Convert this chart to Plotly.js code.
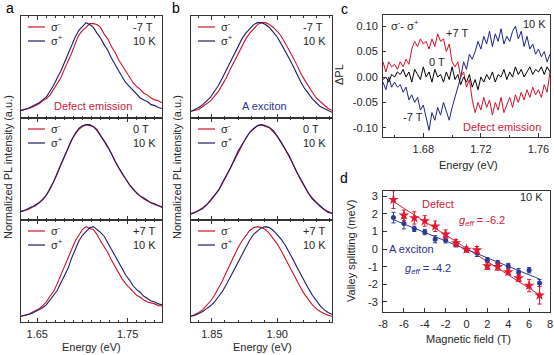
<!DOCTYPE html>
<html><head><meta charset="utf-8">
<script src="https://cdn.plot.ly/plotly-3.0.1.min.js"></script>
<style>html,body{margin:0;padding:0;background:#fff}#chart{width:554px;height:355px}</style>
</head><body><div id="chart"></div>
<script>
// ---------- Panel a : defect emission spectra ----------
const energyA = [1.632,1.636,1.640,1.644,1.648,1.652,1.656,1.660,1.664,1.668,1.672,1.676,1.680,1.684,1.688,1.692,1.696,1.700,1.704,1.708,1.712,1.716,1.720,1.724,1.728,1.732,1.736,1.740,1.744,1.748,1.752,1.756,1.760,1.764,1.768,1.772,1.776,1.780,1.784,1.788];
const defectMinus_m7T = [0.08,0.09,0.10,0.11,0.13,0.15,0.18,0.20,0.24,0.30,0.35,0.42,0.51,0.59,0.68,0.78,0.87,0.92,0.95,0.99,0.99,0.98,0.95,0.88,0.83,0.75,0.69,0.61,0.55,0.48,0.43,0.37,0.33,0.30,0.26,0.24,0.21,0.19,0.18,0.16];
const defectPlus_m7T  = [0.08,0.09,0.10,0.12,0.14,0.16,0.19,0.22,0.28,0.34,0.42,0.49,0.58,0.67,0.77,0.85,0.92,0.96,1.00,0.98,0.95,0.89,0.84,0.77,0.71,0.63,0.56,0.49,0.43,0.37,0.33,0.28,0.25,0.21,0.19,0.17,0.14,0.13,0.11,0.10];
const defectMinus_0T  = [0.09,0.10,0.11,0.13,0.16,0.18,0.22,0.26,0.32,0.40,0.48,0.58,0.67,0.76,0.84,0.90,0.95,0.98,1.00,0.99,0.98,0.95,0.89,0.82,0.76,0.70,0.62,0.55,0.48,0.43,0.37,0.33,0.28,0.25,0.22,0.20,0.18,0.16,0.15,0.14];
const defectPlus_0T   = [0.09,0.10,0.12,0.14,0.15,0.18,0.21,0.26,0.33,0.40,0.49,0.58,0.68,0.76,0.84,0.91,0.96,0.99,1.00,1.00,0.98,0.94,0.89,0.83,0.77,0.69,0.62,0.55,0.49,0.42,0.37,0.32,0.28,0.25,0.23,0.20,0.18,0.17,0.15,0.13];
const defectMinus_p7T = [0.06,0.07,0.08,0.10,0.12,0.14,0.17,0.21,0.27,0.32,0.40,0.49,0.57,0.66,0.77,0.85,0.91,0.97,1.00,0.98,0.97,0.92,0.85,0.79,0.73,0.65,0.58,0.52,0.45,0.40,0.36,0.31,0.28,0.26,0.23,0.21,0.20,0.19,0.17,0.17];
const defectPlus_p7T  = [0.06,0.07,0.08,0.09,0.11,0.13,0.15,0.18,0.23,0.27,0.33,0.41,0.48,0.56,0.67,0.76,0.85,0.91,0.95,0.99,1.00,0.97,0.94,0.90,0.83,0.77,0.69,0.62,0.56,0.49,0.44,0.38,0.34,0.31,0.27,0.24,0.22,0.21,0.19,0.18];

// ---------- Panel b : A exciton spectra ----------
const energyB = [1.834,1.837,1.840,1.843,1.846,1.849,1.852,1.855,1.858,1.861,1.864,1.867,1.870,1.873,1.876,1.879,1.882,1.885,1.888,1.891,1.894,1.897,1.900,1.903,1.906,1.909,1.912,1.915,1.918,1.921,1.924,1.927,1.930,1.933,1.936,1.939,1.942];
const excitonMinus_m7T = [0.07,0.08,0.09,0.12,0.15,0.18,0.23,0.28,0.35,0.42,0.51,0.59,0.67,0.75,0.83,0.89,0.94,0.98,1.00,1.00,0.98,0.95,0.91,0.86,0.79,0.72,0.64,0.56,0.47,0.40,0.33,0.27,0.21,0.17,0.13,0.10,0.08];
const excitonPlus_m7T  = [0.07,0.09,0.11,0.14,0.18,0.22,0.28,0.34,0.42,0.50,0.59,0.67,0.75,0.83,0.89,0.94,0.98,1.00,1.00,0.98,0.95,0.90,0.85,0.78,0.71,0.63,0.55,0.46,0.38,0.31,0.25,0.20,0.16,0.12,0.10,0.08,0.06];
const excitonMinus_0T  = [0.07,0.08,0.10,0.13,0.16,0.20,0.25,0.31,0.38,0.46,0.55,0.63,0.71,0.79,0.86,0.92,0.96,0.99,1.00,0.99,0.97,0.93,0.88,0.82,0.75,0.67,0.59,0.50,0.42,0.35,0.28,0.23,0.18,0.14,0.11,0.09,0.07];
const excitonPlus_0T   = [0.06,0.08,0.10,0.12,0.16,0.21,0.25,0.31,0.39,0.46,0.54,0.63,0.72,0.79,0.85,0.92,0.96,0.99,1.00,0.98,0.97,0.94,0.88,0.81,0.75,0.68,0.59,0.50,0.43,0.35,0.28,0.22,0.18,0.15,0.11,0.08,0.07];
const excitonMinus_p7T = [0.06,0.08,0.10,0.13,0.17,0.22,0.28,0.35,0.43,0.52,0.61,0.70,0.78,0.85,0.91,0.96,0.99,1.00,0.99,0.97,0.93,0.88,0.82,0.75,0.67,0.59,0.51,0.43,0.36,0.29,0.23,0.18,0.14,0.11,0.09,0.07,0.06];
const excitonPlus_p7T  = [0.06,0.07,0.09,0.11,0.14,0.17,0.21,0.26,0.32,0.39,0.47,0.55,0.63,0.71,0.79,0.86,0.92,0.96,0.99,1.00,0.99,0.96,0.92,0.87,0.81,0.74,0.66,0.58,0.50,0.42,0.35,0.28,0.22,0.17,0.13,0.10,0.08];

// ---------- Panel c : sigma- minus sigma+ ----------
const energyC = [1.652,1.654,1.656,1.658,1.660,1.662,1.664,1.666,1.668,1.670,1.672,1.674,1.676,1.678,1.680,1.682,1.684,1.686,1.688,1.690,1.692,1.694,1.696,1.698,1.700,1.702,1.704,1.706,1.708,1.710,1.712,1.714,1.716,1.718,1.720,1.722,1.724,1.726,1.728,1.730,1.732,1.734,1.736,1.738,1.740,1.742,1.744,1.746,1.748,1.750,1.752,1.754,1.756,1.758,1.760,1.762,1.764,1.766,1.768];
const dPL_p7T = [0.03,0.01,0.03,0.02,0.025,0.015,0.03,0.02,0.035,0.025,0.055,0.07,0.06,0.075,0.065,0.07,0.055,0.075,0.06,0.085,0.07,0.075,0.05,0.065,0.03,0.02,0.03,0.0,0.01,-0.02,-0.005,-0.045,-0.07,-0.05,-0.065,-0.04,-0.06,-0.045,-0.075,-0.05,-0.065,-0.04,-0.07,-0.055,-0.04,-0.06,-0.035,-0.05,-0.03,-0.045,-0.025,-0.04,-0.02,-0.035,-0.025,-0.04,-0.015,-0.03,0.01];
const dPL_0T  = [-0.005,0.0,-0.01,0.005,0.0,0.01,0.005,0.015,0.0,0.01,-0.01,0.015,0.005,-0.005,0.02,0.0,0.01,-0.01,0.015,0.0,0.005,-0.01,0.01,-0.005,0.02,-0.005,0.005,-0.015,0.0,-0.01,0.005,-0.02,-0.005,-0.025,0.0,-0.01,0.005,-0.005,0.01,-0.01,0.005,0.0,0.015,-0.005,0.01,0.0,0.02,0.005,0.015,0.0,0.01,0.02,0.005,0.015,0.01,0.02,0.005,0.02,0.01];
const dPL_m7T = [-0.01,-0.025,0.0,-0.02,-0.01,-0.02,-0.015,-0.03,-0.02,-0.045,-0.035,-0.05,-0.04,-0.065,-0.055,-0.08,-0.105,-0.07,-0.085,-0.06,-0.075,-0.05,-0.07,-0.085,-0.06,-0.04,-0.02,0.0,0.03,0.015,0.045,0.035,0.05,0.07,0.055,0.08,0.065,0.09,0.06,0.085,0.07,0.095,0.065,0.08,0.07,0.09,0.1,0.075,0.09,0.06,0.08,0.055,0.065,0.045,0.055,0.04,0.05,0.03,0.045];

// ---------- Panel d : valley splitting ----------
const fieldB = [-7,-6,-5,-4,-3,-2,-1,0,1,2,3,4,5,6,7];
const defectSplit = [2.81,1.92,1.77,1.60,1.30,0.84,0.35,-0.02,-0.05,-0.96,-1.00,-1.30,-1.64,-2.07,-2.62];
const defectErr   = [0.50,0.30,0.35,0.30,0.30,0.25,0.20,0.15,0.20,0.20,0.20,0.15,0.20,0.35,0.50];
const excitonSplit = [1.79,1.45,1.15,0.97,0.56,0.50,0.27,-0.05,-0.22,-0.63,-0.79,-0.96,-1.30,-1.20,-1.92];
const excitonErr   = [0.30,0.30,0.15,0.15,0.20,0.15,0.15,0.10,0.20,0.15,0.15,0.15,0.20,0.15,0.20];
const fitB = [-7,7];
const defectFit = [2.70,-2.60];
const excitonFit = [1.67,-1.70];

// tick labels
const tickA = [1.65,1.75], tickAText = ['1.65','1.75'];
const tickB = [1.85,1.90], tickBText = ['1.85','1.90'];
const tickCx = [1.68,1.72,1.76], tickCxText = ['1.68','1.72','1.76'];
const tickCy = [0.10,0.05,0,-0.05,-0.10], tickCyText = ['0.10','0.05','0.00','-0.05','-0.10'];
const tickDx = [-8,-6,-4,-2,0,2,4,6,8], tickDxText = ['-8','-6','-4','-2','0','2','4','6','8'];
const tickDy = [3,2,1,0,-1,-2,-3], tickDyText = ['3','2','1','0','-1','-2','-3'];

// ---------- styling ----------
const W = 554, H = 355;
const F = 'Liberation Sans, Arial, sans-serif';
const TXT = '#262626';
const RED = '#cf1229', NAVY = '#1b1e66';
const px = x => x / W, py = y => 1 - y / H;
const rows = [[16,118],[118,220],[220,322]];

const traces = [];
const layout = {
  width: W, height: H, margin: {l:0,r:0,t:0,b:0},
  paper_bgcolor: '#fff', plot_bgcolor: '#fff', showlegend: false,
  font: {family: F, size: 11, color: TXT},
  annotations: [], shapes: []
};

function xAxisAB(domain, range, tick0, minor, showLabels, tv, tt) {
  return {domain, range, showline:true, mirror:'ticks', linecolor:'#333', linewidth:1,
    ticks:'inside', ticklen:4, tickcolor:'#333', tickmode:'array', tickvals: tv, ticktext: tt,
    showticklabels: showLabels, tickfont:{family:F,size:11,color:TXT}, ticklabelstandoff: 2,
    minor:{ticks:'inside', ticklen:2, tick0: tick0, dtick: minor, tickcolor:'#333'},
    showgrid:false, zeroline:false, fixedrange:true};
}
function yAxisAB(domain, anchor) {
  return {domain, range:[0,1.07], anchor, showline:true, mirror:true, linecolor:'#333', linewidth:1,
    ticks:'', showticklabels:false, showgrid:false, zeroline:false, fixedrange:true};
}

const setsA = [[defectMinus_m7T, defectPlus_m7T],[defectMinus_0T, defectPlus_0T],[defectMinus_p7T, defectPlus_p7T]];
const setsB = [[excitonMinus_m7T, excitonPlus_m7T],[excitonMinus_0T, excitonPlus_0T],[excitonMinus_p7T, excitonPlus_p7T]];
const fields = ['-7 T','0 T','+7 T'];

function panel(colIdx, energy, sets, xdom, range, tick0, minor, tv, tt) {
  for (let r = 0; r < 3; r++) {
    const n = colIdx*3 + r + 1;
    const xa = 'x' + n, ya = 'y' + n;
    const ydom = [py(rows[r][1]), py(rows[r][0])];
    layout['xaxis' + n] = Object.assign(xAxisAB(xdom, range, tick0, minor, r === 2, tv, tt), {anchor: ya});
    layout['yaxis' + n] = yAxisAB(ydom, xa);
    traces.push({x: energy, y: sets[r][0], xaxis: xa, yaxis: ya, type:'scatter', mode:'lines', line:{color:RED, width:1.1}});
    traces.push({x: energy, y: sets[r][1], xaxis: xa, yaxis: ya, type:'scatter', mode:'lines', line:{color:NAVY, width:1.1}});
  }
}
panel(0, energyA, setsA, [px(21), px(162)], [1.632, 1.788], 1.65, 0.01, tickA, tickAText);
panel(1, energyB, setsB, [px(191), px(332)], [1.834, 1.942], 1.85, 0.01, tickB, tickBText);

// panel c
layout.xaxis7 = {domain:[px(383), px(550)], range:[1.652,1.768], anchor:'y7', showline:true, mirror:true,
  linecolor:'#333', linewidth:1, ticks:'inside', ticklen:4, tickcolor:'#333', tickmode:'array',
  tickvals: tickCx, ticktext: tickCxText, ticklabelstandoff: 2,
  minor:{ticks:'inside', ticklen:2, tick0:1.66, dtick:0.02, tickcolor:'#333'},
  showgrid:false, zeroline:false, tickfont:{family:F,size:11,color:TXT}, fixedrange:true};
layout.yaxis7 = {domain:[py(137), py(15)], range:[-0.118,0.122], anchor:'x7', showline:true, mirror:true,
  linecolor:'#333', linewidth:1, ticks:'inside', ticklen:3, tickcolor:'#333', tickmode:'array',
  tickvals: tickCy, ticktext: tickCyText, showgrid:false, zeroline:false, ticklabelstandoff: 2,
  tickfont:{family:F,size:11,color:TXT}, fixedrange:true};
traces.push({x: energyC, y: dPL_m7T, xaxis:'x7', yaxis:'y7', type:'scatter', mode:'lines', line:{color:'#1c2388', width:1}});
traces.push({x: energyC, y: dPL_p7T, xaxis:'x7', yaxis:'y7', type:'scatter', mode:'lines', line:{color:'#d8102a', width:1}});
traces.push({x: energyC, y: dPL_0T, xaxis:'x7', yaxis:'y7', type:'scatter', mode:'lines', line:{color:'#000', width:1}});

// panel d
layout.xaxis8 = {domain:[px(383), px(550)], range:[-8,8], anchor:'y8', showline:true, mirror:true,
  linecolor:'#333', linewidth:1, ticks:'inside', ticklen:4, tickcolor:'#333', tickmode:'array',
  tickvals: tickDx, ticktext: tickDxText, showgrid:false, zeroline:false, ticklabelstandoff: 2,
  tickfont:{family:F,size:11,color:TXT}, fixedrange:true};
layout.yaxis8 = {domain:[py(312), py(191)], range:[-3.57,3.3], anchor:'x8', showline:true, mirror:true,
  linecolor:'#333', linewidth:1, ticks:'inside', ticklen:4, tickcolor:'#333', tickmode:'array',
  tickvals: tickDy, ticktext: tickDyText, showgrid:false, zeroline:false, ticklabelstandoff: 2,
  tickfont:{family:F,size:11,color:TXT}, fixedrange:true};
traces.push({x: fitB, y: defectFit, xaxis:'x8', yaxis:'y8', type:'scatter', mode:'lines', line:{color:'#d8263a', width:1}});
traces.push({x: fitB, y: excitonFit, xaxis:'x8', yaxis:'y8', type:'scatter', mode:'lines', line:{color:'#2e3a95', width:1}});
traces.push({x: fieldB, y: excitonSplit, xaxis:'x8', yaxis:'y8', type:'scatter', mode:'markers',
  marker:{symbol:'circle', size:5, color:'#2b3896'},
  error_y:{type:'data', array: excitonErr, visible:true, color:'#2b3896', thickness:1, width:2}});
traces.push({x: fieldB, y: defectSplit, xaxis:'x8', yaxis:'y8', type:'scatter', mode:'markers',
  marker:{symbol:'star', size:8, color:'#e3172d'},
  error_y:{type:'data', array: defectErr, visible:true, color:'#e3172d', thickness:1, width:2}});

// ---------- annotations & legend samples ----------
function A(text, x, y, o) {
  return Object.assign({text, x: px(x), y: py(y), xref:'paper', yref:'paper', showarrow:false,
    xanchor:'left', yanchor:'middle', font:{family:F, size:11, color:TXT}}, o || {});
}
function L(x0, x1, y, color) {
  return {type:'line', xref:'paper', yref:'paper', x0:px(x0), x1:px(x1), y0:py(y), y1:py(y), line:{color, width:1.2}};
}
const ann = layout.annotations, shp = layout.shapes;
[21, 191].forEach(left => {
  rows.forEach((rw, r) => {
    const top = rw[0];
    shp.push(L(left+7, left+24, top+11, RED));
    shp.push(L(left+7, left+24, top+25, NAVY));
    ann.push(A('σ<sup>-</sup>', left+28, top+10));
    ann.push(A('σ<sup>+</sup>', left+28, top+24));
    ann.push(A(fields[r], left+110, top+11));
    ann.push(A('10 K', left+110, top+25));
  });
});
ann.push(A('Defect emission', 93, 106, {xanchor:'center', font:{family:F,size:11,color:'#d0203a'}}));
ann.push(A('A exciton', 264, 106, {xanchor:'center', font:{family:F,size:11,color:'#2c3190'}}));
ann.push(A('Energy (eV)', 91, 347, {xanchor:'center'}));
ann.push(A('Energy (eV)', 262, 347, {xanchor:'center'}));
ann.push(A('Normalized PL intensity (a.u.)', 8, 167, {xanchor:'center', textangle:-90}));
ann.push(A('Normalized PL intensity (a.u.)', 177, 167, {xanchor:'center', textangle:-90}));
// panel c
ann.push(A('σ<sup>-</sup>- σ<sup>+</sup>', 389, 25));
ann.push(A('+7 T', 444, 33));
ann.push(A('10 K', 521, 24));
ann.push(A('0 T', 427, 62));
ann.push(A('-7 T', 401, 117));
ann.push(A('Defect emission', 461, 127, {font:{family:F,size:11,color:'#d0203a'}}));
ann.push(A('Energy (eV)', 468, 165, {xanchor:'center'}));
ann.push(A('ΔPL', 339, 75, {xanchor:'center', textangle:-90}));
// panel d
ann.push(A('10 K', 518, 197));
ann.push(A('Defect', 420, 204, {font:{family:F,size:11,color:'#d0203a'}}));
ann.push(A('<i>g</i><sub><i>eff</i></sub> = -6.2', 457, 221, {font:{family:F,size:11,color:'#d0203a'}}));
ann.push(A('A exciton', 387, 249, {font:{family:F,size:11,color:'#2c3190'}}));
ann.push(A('<i>g</i><sub><i>eff</i></sub> = -4.2', 403, 269, {font:{family:F,size:11,color:'#2c3190'}}));
ann.push(A('Magnetic field (T)', 468, 339, {xanchor:'center'}));
ann.push(A('Valley splitting (meV)', 351, 251, {xanchor:'center', textangle:-90}));
// panel letters
ann.push(A('a', 4, 8, {font:{family:F,size:14,color:'#000'}}));
ann.push(A('b', 170, 8, {font:{family:F,size:14,color:'#000'}}));
ann.push(A('c', 339, 9, {font:{family:F,size:14,color:'#000'}}));
ann.push(A('d', 338, 178, {font:{family:F,size:14,color:'#000'}}));

Plotly.newPlot('chart', traces, layout, {displayModeBar:false});
</script>
</body></html>
